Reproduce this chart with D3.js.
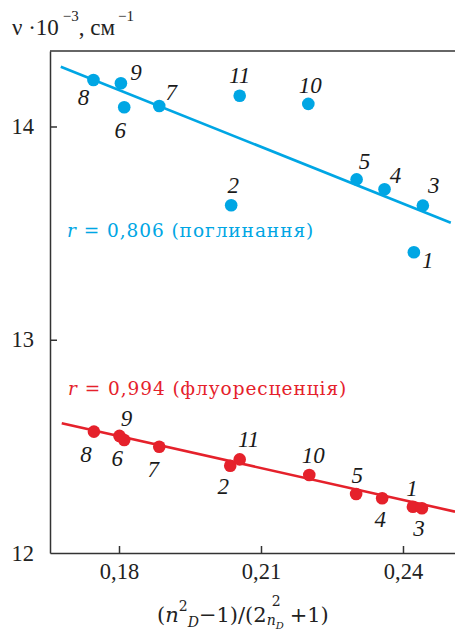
<!DOCTYPE html>
<html>
<head>
<meta charset="utf-8">
<script src="https://cdn.jsdelivr.net/npm/d3@7"></script>
<style>
  html, body { margin: 0; padding: 0; background: #fff; }
  svg { display: block; }
</style>
</head>
<body>
<svg id="chart" width="455" height="636"></svg>
<script>
// ---------- data ----------
const pointIds = [1, 2, 3, 4, 5, 6, 7, 8, 9, 10, 11];

// absorption (blue)
const absX = [0.2423, 0.2037, 0.2442, 0.2361, 0.2302, 0.1811, 0.1885, 0.1746, 0.1804, 0.2200, 0.2055];
const absY = [13.410, 13.631, 13.629, 13.706, 13.752, 14.090, 14.096, 14.218, 14.203, 14.106, 14.144];
const absFitX = [0.1677, 0.2501];
const absFitY = [14.280, 13.549];

// fluorescence (red)
const flX = [0.2421, 0.2035, 0.2440, 0.2356, 0.2301, 0.1811, 0.1885, 0.1747, 0.1801, 0.2202, 0.2055];
const flY = [12.217, 12.409, 12.210, 12.257, 12.277, 12.530, 12.498, 12.569, 12.549, 12.366, 12.439];
const flFitX = [0.1679, 0.2510];
const flFitY = [12.608, 12.194];

const xTicks = [0.18, 0.21, 0.24];
const yTicks = [12, 13, 14];
const xDomain = [0.16542, 0.25099];
const yDomain = [12, 14.354];

const absLabel = "r = 0,806 (поглинання)";
const flLabel = "r = 0,994 (флуоресценція)";

// label offsets (px) relative to each point, same order as pointIds
const absLabelOff = [[14, 8], [2, -20], [11, -21], [11, -14], [8, -18], [-4, 23], [12, -14], [-10, 17], [15, -11], [2, -19], [0, -21]];
const flLabelOff  = [[-1, -19], [-7, 20], [-3, 20], [-2, 21], [1, -19], [-7, 18], [-6, 22], [-8, 22], [7, -18], [4, -20], [9, -20]];

// ---------- layout ----------
const blue = "#00a6e4";
const red = "#e5212b";
const axisColor = "#333";
const serif = "'Liberation Serif', 'Times New Roman', serif";
const serif2 = "'DejaVu Serif', serif";

const svg = d3.select("#chart");
const mLeft = 50, mRight = 455, mTop = 51, mBottom = 553;

const x = d3.scaleLinear().domain(xDomain).range([mLeft, mRight]);
const y = d3.scaleLinear().domain(yDomain).range([mBottom, mTop]);

// axes
const fmt = d => d.toFixed(2).replace(".", ",");
const gx = svg.append("g").attr("transform", `translate(0,${mBottom})`)
  .call(d3.axisBottom(x).tickValues(xTicks).tickSizeInner(-7).tickSizeOuter(0).tickPadding(10).tickFormat(fmt));
const gy = svg.append("g").attr("transform", `translate(${mLeft},0)`)
  .call(d3.axisLeft(y).tickValues(yTicks).tickSizeInner(-7).tickSizeOuter(0).tickPadding(16).tickFormat(d3.format("d")));
[gx, gy].forEach(g => {
  g.selectAll("path, line").attr("stroke", axisColor).attr("stroke-width", 1.5);
  g.selectAll("text").attr("fill", "#222").style("font-family", serif).style("font-size", "22.5px");
});
gy.selectAll(".tick").filter(d => d === 12).select("line").remove();

// top border
svg.append("line")
  .attr("x1", x(xDomain[0])).attr("x2", x(xDomain[1]))
  .attr("y1", y(yDomain[1])).attr("y2", y(yDomain[1]))
  .attr("stroke", axisColor).attr("stroke-width", 1.5);

// fit lines
function fit(fx, fy, color) {
  svg.append("path")
    .datum(fx.map((v, i) => [v, fy[i]]))
    .attr("d", d3.line().x(d => x(d[0])).y(d => y(d[1])))
    .attr("stroke", color).attr("stroke-width", 2.6).attr("fill", "none");
}
fit(absFitX, absFitY, blue);
fit(flFitX, flFitY, red);

// points + labels
function series(xs, ys, offs, color) {
  const data = pointIds.map((id, i) => ({ id, x: xs[i], y: ys[i], off: offs[i] }));
  svg.append("g").selectAll("circle").data(data).join("circle")
    .attr("cx", d => x(d.x)).attr("cy", d => y(d.y)).attr("r", 6.3)
    .attr("fill", color);
  svg.append("g").selectAll("text").data(data).join("text")
    .attr("x", d => x(d.x) + d.off[0]).attr("y", d => y(d.y) + d.off[1])
    .attr("dy", "0.35em").attr("text-anchor", "middle")
    .style("font-family", serif).style("font-style", "italic").style("font-size", "23px")
    .attr("fill", "#1a1a1a")
    .text(d => d.id);
}
series(absX, absY, absLabelOff, blue);
series(flX, flY, flLabelOff, red);

// r annotations
function rLabel(str, color, px, py) {
  const t = svg.append("text").attr("x", px).attr("y", py).attr("fill", color)
    .style("font-family", serif2).style("font-size", "18.5px").style("letter-spacing", "0.95px");
  t.append("tspan").style("font-style", "italic").text(str.slice(0, 1));
  t.append("tspan").text(str.slice(1));
}
rLabel(absLabel, blue, 67, 237);
rLabel(flLabel, red, 68, 395);

// y-axis title
const yt = svg.append("text").attr("x", 12).attr("y", 35).attr("fill", "#222")
  .style("font-family", serif).style("font-size", "23px");
yt.append("tspan").text("ν ·10");
yt.append("tspan").attr("dx", 4).attr("dy", -14).style("font-size", "15px").text("−3");
yt.append("tspan").attr("dy", 14).text(", см");
yt.append("tspan").attr("dx", 3).attr("dy", -14).style("font-size", "15px").text("−1");

// x-axis title
const xt = svg.append("text").attr("x", 157).attr("y", 622).attr("fill", "#222")
  .style("font-family", serif2).style("font-size", "21px");
xt.append("tspan").text("(");
xt.append("tspan").style("font-style", "italic").text("n");
xt.append("tspan").attr("dy", -11).style("font-size", "14px").text("2");
xt.append("tspan").attr("dy", 16).style("font-size", "14px").style("font-style", "italic").text("D");
xt.append("tspan").attr("dy", -5).text("−1)/(2");
xt.append("tspan").attr("dy", 3).style("font-size", "14px").style("font-style", "italic").text("n");
xt.append("tspan").attr("dy", 4).style("font-size", "10px").style("font-style", "italic").text("D");
xt.append("tspan").attr("dx", -12).attr("dy", -23).style("font-size", "14px").text("2");
xt.append("tspan").attr("dx", 9).attr("dy", 16).text("+1)");
</script>
</body>
</html>
